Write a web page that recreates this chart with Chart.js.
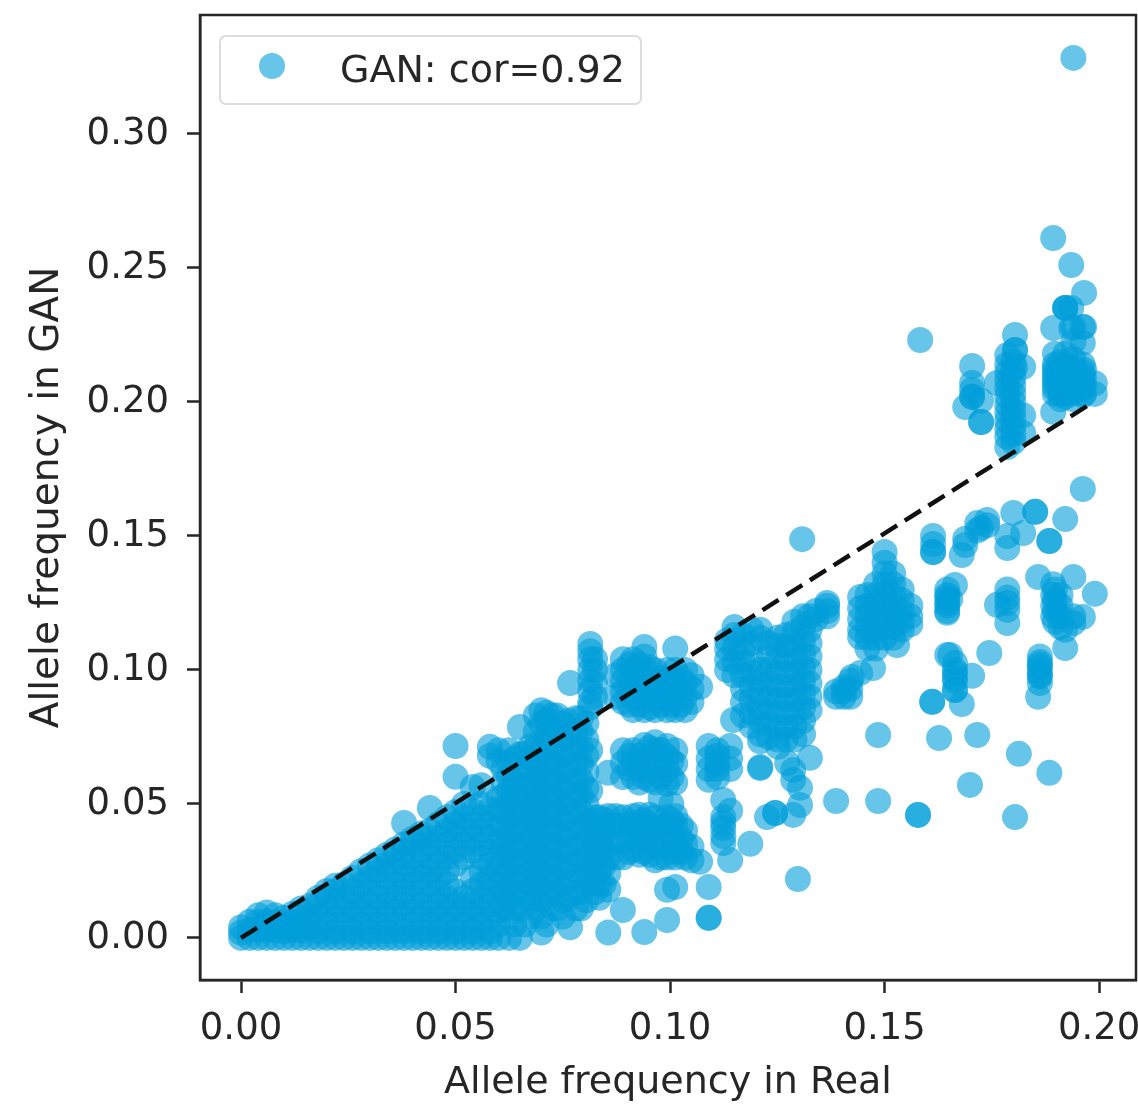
<!DOCTYPE html>
<html>
<head>
<meta charset="utf-8">
<title>Allele frequency</title>
<script src="https://cdn.jsdelivr.net/npm/chart.js@4/dist/chart.umd.min.js"></script>
<style>
  html, body { margin: 0; padding: 0; background: #fff; }
  #wrap { width: 1138px; height: 1104px; }
</style>
</head>
<body>
<div id="wrap"><canvas id="myChart" width="1138" height="1104"></canvas></div>
<script>
// values, one entry per column of points
var lowReal = [
  0.000, 0.002, 0.004, 0.006, 0.008, 0.010, 0.012, 0.014, 0.016, 0.018,
  0.020, 0.022, 0.024, 0.026, 0.028, 0.030, 0.032, 0.034, 0.036, 0.038,
  0.040, 0.042, 0.044, 0.046, 0.048, 0.050, 0.052, 0.054, 0.056, 0.058,
  0.060, 0.0625, 0.065, 0.0675, 0.070, 0.0725, 0.075, 0.0767, 0.078, 0.0805, 0.0814
];
var lowGan = [
  [0, 0.002, 0.004],
  [0, 0.003, 0.006],
  [0, 0.003, 0.006, 0.0085],
  [0, 0.003, 0.006, 0.0095],
  [0, 0.003, 0.006, 0.0085],
  [0, 0.0025, 0.005, 0.0075],
  [0, 0.003, 0.006, 0.009],
  [0, 0.003, 0.006, 0.009, 0.011],
  [0, 0.004, 0.008, 0.012],
  [0, 0.0025, 0.0075, 0.0125, 0.015],
  [0, 0.005, 0.010, 0.015, 0.0175],
  [0, 0.0025, 0.0075, 0.0125, 0.0175, 0.0195],
  [0, 0.005, 0.010, 0.015, 0.020],
  [0, 0.0025, 0.0075, 0.0125, 0.0175, 0.0225],
  [0, 0.005, 0.010, 0.015, 0.020, 0.025],
  [0, 0.0025, 0.0075, 0.0125, 0.0175, 0.0225, 0.027],
  [0, 0.005, 0.010, 0.015, 0.020, 0.025, 0.029],
  [0, 0.0025, 0.0075, 0.0125, 0.0175, 0.0225, 0.0275, 0.031],
  [0, 0.005, 0.010, 0.015, 0.020, 0.025, 0.030, 0.033],
  [0, 0.0025, 0.0075, 0.0125, 0.0175, 0.0225, 0.0275, 0.0325, 0.035, 0.0429],
  [0, 0.005, 0.010, 0.015, 0.020, 0.025, 0.030, 0.035, 0.037],
  [0, 0.0025, 0.0075, 0.0125, 0.0175, 0.0225, 0.0275, 0.0325, 0.0375, 0.039],
  [0, 0.005, 0.010, 0.015, 0.020, 0.025, 0.030, 0.035, 0.040, 0.0485],
  [0, 0.0025, 0.0075, 0.0125, 0.0175, 0.0225, 0.0275, 0.0325, 0.0375, 0.0425],
  [0, 0.005, 0.010, 0.015, 0.020, 0.025, 0.030, 0.035, 0.040, 0.045],
  [0, 0.0025, 0.0075, 0.0125, 0.0175, 0.0275, 0.0325, 0.0375, 0.0425, 0.047, 0.0601, 0.0716],
  [0, 0.005, 0.010, 0.015, 0.030, 0.035, 0.040, 0.045, 0.050],
  [0, 0.0025, 0.0075, 0.0125, 0.0175, 0.0225, 0.0325, 0.0375, 0.0425, 0.0475, 0.0563],
  [0, 0.005, 0.010, 0.015, 0.020, 0.025, 0.030, 0.035, 0.040, 0.045, 0.050, 0.057],
  [0, 0.0025, 0.0075, 0.0125, 0.0175, 0.0225, 0.0275, 0.0325, 0.0375, 0.0425, 0.048, 0.068, 0.0713],
  [0, 0.005, 0.010, 0.015, 0.020, 0.025, 0.030, 0.036, 0.042, 0.048, 0.052, 0.066, 0.070],
  [0, 0.008, 0.014, 0.020, 0.026, 0.032, 0.038, 0.044, 0.050, 0.055, 0.060, 0.065, 0.070],
  [0, 0.011, 0.017, 0.023, 0.029, 0.035, 0.041, 0.047, 0.053, 0.060, 0.0685, 0.0787],
  [0.008, 0.014, 0.020, 0.026, 0.032, 0.038, 0.044, 0.050, 0.056, 0.062, 0.067, 0.0715],
  [0.002, 0.008, 0.014, 0.020, 0.026, 0.032, 0.038, 0.044, 0.050, 0.056, 0.062, 0.068, 0.074, 0.080, 0.085],
  [0.011, 0.017, 0.023, 0.029, 0.035, 0.041, 0.047, 0.053, 0.059, 0.065, 0.071, 0.077, 0.083],
  [0.008, 0.014, 0.020, 0.026, 0.032, 0.038, 0.044, 0.050, 0.056, 0.062, 0.068, 0.074, 0.080],
  [0.004, 0.0951],
  [0.011, 0.017, 0.023, 0.029, 0.035, 0.041, 0.047, 0.053, 0.059, 0.065, 0.071, 0.077, 0.082],
  [0.014, 0.020, 0.026, 0.032, 0.038, 0.044, 0.050, 0.056, 0.062, 0.068, 0.074, 0.080],
  [0.055, 0.070, 0.086, 0.088, 0.092, 0.096, 0.100, 0.104, 0.107, 0.1097]
];
// second pass over the solid part of the band, between the columns above
var fillReal = [
  0.0612, 0.0637, 0.0662, 0.0687, 0.0712, 0.0737, 0.0762, 0.0792, 0.0825, 0.0845,
  0.0905, 0.0928, 0.0952, 0.0978, 0.1003, 0.1025
];
var fillGan = [
  [0.011, 0.017, 0.023, 0.029, 0.035, 0.041, 0.047, 0.053, 0.058, 0.063],
  [0.005, 0.011, 0.017, 0.023, 0.029, 0.035, 0.041, 0.047, 0.053, 0.058, 0.067],
  [0.005, 0.015, 0.021, 0.027, 0.033, 0.039, 0.045, 0.051, 0.057, 0.063, 0.069],
  [0.011, 0.017, 0.023, 0.029, 0.035, 0.041, 0.047, 0.053, 0.059, 0.065, 0.071, 0.077, 0.083],
  [0.005, 0.015, 0.021, 0.027, 0.033, 0.039, 0.045, 0.051, 0.057, 0.063, 0.069, 0.075, 0.081, 0.084],
  [0.011, 0.017, 0.023, 0.029, 0.035, 0.041, 0.047, 0.053, 0.059, 0.065, 0.071, 0.077, 0.083],
  [0.015, 0.021, 0.027, 0.033, 0.039, 0.045, 0.051, 0.057, 0.063, 0.069, 0.075, 0.081],
  [0.011, 0.017, 0.023, 0.029, 0.035, 0.041, 0.047, 0.053, 0.059, 0.065, 0.071, 0.077, 0.082],
  [0.017, 0.023, 0.029, 0.035, 0.041, 0.045, 0.090, 0.095, 0.100, 0.104],
  [0.020, 0.027, 0.033, 0.039, 0.044],
  [0.032, 0.037, 0.042, 0.063, 0.068, 0.087, 0.092, 0.097, 0.102],
  [0.031, 0.036, 0.041, 0.046, 0.058, 0.063, 0.068, 0.087, 0.092, 0.097, 0.102],
  [0.031, 0.036, 0.042, 0.046, 0.059, 0.065, 0.071, 0.086, 0.091, 0.096, 0.101],
  [0.030, 0.036, 0.041, 0.052, 0.060, 0.066, 0.070, 0.087, 0.092, 0.097],
  [0.032, 0.038, 0.044, 0.050, 0.060, 0.066, 0.087, 0.092, 0.097],
  [0.032, 0.037, 0.042, 0.087, 0.092, 0.097]
];
var midReal = [
  0.0835, 0.0856, 0.0873, 0.089, 0.0914, 0.094, 0.0965, 0.0993, 0.1012, 0.1035,
  0.105, 0.107, 0.109, 0.111, 0.1124, 0.114, 0.1187, 0.121, 0.1252, 0.1273,
  0.1326, 0.1245, 0.1287, 0.1303, 0.1226, 0.1298
];
var midGan = [
  [0.015, 0.020, 0.025, 0.030, 0.035, 0.040, 0.045],
  [0.002, 0.018, 0.024, 0.030, 0.036, 0.042, 0.0455, 0.0616],
  [0.030, 0.036, 0.042, 0.0455, 0.090, 0.098],
  [0.0104, 0.030, 0.036, 0.042, 0.045, 0.060, 0.0653, 0.070, 0.088, 0.092, 0.096, 0.100, 0.104],
  [0.033, 0.038, 0.043, 0.0455, 0.060, 0.0653, 0.070, 0.085, 0.090, 0.095, 0.100, 0.104],
  [0.0022, 0.032, 0.038, 0.044, 0.060, 0.0663, 0.072, 0.085, 0.090, 0.095, 0.100, 0.105, 0.1086],
  [0.029, 0.034, 0.040, 0.045, 0.058, 0.064, 0.070, 0.073, 0.085, 0.090, 0.095, 0.100],
  [0.0067, 0.018, 0.030, 0.036, 0.042, 0.045, 0.0575, 0.0625, 0.0675, 0.0716, 0.085, 0.090, 0.095, 0.100],
  [0.019, 0.030, 0.036, 0.042, 0.0455, 0.058, 0.065, 0.070, 0.085, 0.090, 0.095, 0.100, 0.108],
  [0.030, 0.035, 0.040, 0.085, 0.090, 0.095, 0.100],
  [0.029, 0.034, 0.088, 0.093, 0.098],
  [0.0284, 0.0937],
  [0.0075, 0.0075, 0.019, 0.059, 0.063, 0.067, 0.0716],
  [0.060, 0.065, 0.070, 0.063, 0.068],
  [0.0354, 0.038, 0.041, 0.043, 0.0451, 0.0515],
  [0.029, 0.0475, 0.063, 0.067, 0.0716],
  [0.0351],
  [0.0638, 0.0634, 0.0734],
  [0.0713],
  [0.0653],
  [0.0672],
  [0.0466, 0.0466],
  [0.0459, 0.059, 0.0627],
  [0.0496, 0.056],
  [0.0451],
  [0.022]
];
var massReal = [0.1133, 0.115, 0.1147, 0.117, 0.119, 0.121, 0.123, 0.125, 0.127, 0.129, 0.131, 0.1325, 0.134, 0.1366];
var massGan = [
  [0.100, 0.104, 0.108, 0.111],
  [0.098, 0.103, 0.108, 0.113, 0.116],
  [0.0813],
  [0.083, 0.088, 0.093, 0.098, 0.103, 0.108, 0.113],
  [0.079, 0.084, 0.089, 0.094, 0.099, 0.104, 0.110, 0.115],
  [0.076, 0.081, 0.086, 0.091, 0.096, 0.100, 0.112, 0.115],
  [0.075, 0.080, 0.085, 0.090, 0.095, 0.100, 0.105, 0.110],
  [0.074, 0.079, 0.084, 0.089, 0.094, 0.099, 0.104, 0.109, 0.112],
  [0.074, 0.079, 0.084, 0.089, 0.094, 0.099, 0.104, 0.109, 0.113],
  [0.074, 0.079, 0.084, 0.089, 0.094, 0.099, 0.104, 0.109, 0.114, 0.118],
  [0.076, 0.081, 0.086, 0.091, 0.096, 0.101, 0.106, 0.111, 0.116, 0.120],
  [0.085, 0.090, 0.095, 0.100, 0.105, 0.110, 0.115, 0.120],
  [0.122, 0.119],
  [0.120, 0.125, 0.124, 0.122]
];
var highReal = [
  0.1308, 0.1387, 0.1405, 0.142, 0.1424, 0.1443, 0.146, 0.1473, 0.148, 0.1485,
  0.150, 0.152, 0.1529, 0.154, 0.156, 0.1578, 0.1583, 0.1611, 0.1613, 0.1627,
  0.1646, 0.1653, 0.1664, 0.168, 0.1688, 0.1699, 0.1704, 0.1716, 0.1725, 0.1739,
  0.1744, 0.1762, 0.1786, 0.180, 0.1804, 0.1813, 0.1823, 0.1851, 0.1858, 0.1862,
  0.1884, 0.1893, 0.1897, 0.191, 0.1921, 0.1935, 0.194, 0.1962, 0.1965, 0.199
];
var highGan = [
  [0.1488],
  [0.0511, 0.090, 0.092],
  [0.0935, 0.090, 0.092],
  [0.090, 0.093, 0.096],
  [0.0974],
  [0.0989, 0.1272, 0.123, 0.119, 0.115, 0.1123],
  [0.128, 0.124, 0.120, 0.116, 0.112, 0.108],
  [0.1007],
  [0.132, 0.128, 0.124, 0.120, 0.116, 0.112, 0.108],
  [0.0511, 0.0757],
  [0.144, 0.140, 0.136, 0.132, 0.128, 0.124, 0.120, 0.116, 0.112],
  [0.136, 0.132, 0.128, 0.124, 0.120, 0.116, 0.112],
  [0.1093],
  [0.130, 0.126, 0.122, 0.118, 0.115],
  [0.124, 0.120, 0.117],
  [0.0459, 0.0459],
  [0.2231],
  [0.0881, 0.0881],
  [0.150, 0.147, 0.144, 0.144],
  [0.0746],
  [0.130, 0.127, 0.124, 0.1213, 0.1056, 0.128, 0.125, 0.122],
  [0.1056, 0.1265],
  [0.1317, 0.1026, 0.099, 0.096, 0.0925, 0.0925, 0.100, 0.097],
  [0.0873, 0.1429],
  [0.1466, 0.149, 0.1981],
  [0.0571],
  [0.0978, 0.2134, 0.2071, 0.2045, 0.2019, 0.2019],
  [0.0757, 0.1548, 0.152],
  [0.153, 0.2005, 0.1925, 0.1925],
  [0.156, 0.154],
  [0.1063],
  [0.1243, 0.2071],
  [0.130, 0.127, 0.125, 0.1224, 0.1175, 0.150, 0.1455, 0.2175, 0.214, 0.211, 0.208, 0.205, 0.202, 0.199, 0.196, 0.193, 0.190, 0.187, 0.1832],
  [0.1586, 0.215, 0.212, 0.209, 0.206, 0.203, 0.200, 0.197, 0.194, 0.191, 0.188, 0.185],
  [0.0451, 0.225, 0.2194, 0.2194, 0.213],
  [0.0687],
  [0.1511, 0.1884, 0.195, 0.2131],
  [0.159, 0.159],
  [0.1347, 0.090],
  [0.105, 0.103, 0.101, 0.099, 0.0975, 0.0951, 0.102, 0.098],
  [0.0616, 0.1481, 0.1481],
  [0.2612, 0.2276, 0.1963, 0.132, 0.128, 0.124, 0.120],
  [0.130, 0.126, 0.122, 0.118, 0.205, 0.208, 0.211, 0.214, 0.218, 0.203, 0.2065, 0.2095, 0.2125],
  [0.128, 0.124, 0.120, 0.116, 0.203, 0.206, 0.209, 0.212, 0.215, 0.201, 0.2045, 0.2075, 0.2105],
  [0.1082, 0.115, 0.1563, 0.2351, 0.2351, 0.2351, 0.202, 0.205, 0.208, 0.211, 0.214, 0.218, 0.2035, 0.2065, 0.2095],
  [0.2511, 0.2276, 0.2351, 0.203, 0.206, 0.209, 0.212],
  [0.1347, 0.1175, 0.120, 0.2225, 0.228, 0.201, 0.204, 0.207, 0.210, 0.213, 0.216],
  [0.1198, 0.1675, 0.228, 0.222, 0.2025, 0.205, 0.208, 0.211, 0.214],
  [0.2407, 0.203, 0.206, 0.209, 0.212, 0.228],
  [0.1284, 0.203, 0.207]
];
var topReal = [0.194];
var topGan = [[0.3284]];
var lineReal = [0, 0.1972];
var lineGan = [0, 0.1985];
var xTicks = [0, 0.05, 0.1, 0.15, 0.2];
var yTicks = [0, 0.05, 0.1, 0.15, 0.2, 0.25, 0.3];
var seriesLabel = "GAN: cor=0.92";

var points = [];
function addColumns(reals, gans) {
  reals.forEach(function (x, i) {
    gans[i].forEach(function (y) {
      points.push({ x: x, y: y });
    });
  });
}
addColumns(lowReal, lowGan);
addColumns(fillReal, fillGan);
addColumns(midReal, midGan);
addColumns(massReal, massGan);
addColumns(highReal, highGan);
addColumns(topReal, topGan);

var inkColor = "#262626";
var dotColor = "rgba(0, 158, 218, 0.6)";

// the legend marker sits left of the middle of its slot, so it gets its own small canvas
var legendDot = document.createElement("canvas");
legendDot.width = 60;
legendDot.height = 44;
var dotCtx = legendDot.getContext("2d");
dotCtx.fillStyle = dotColor;
dotCtx.beginPath();
dotCtx.arc(15, 16, 13, 0, Math.PI * 2);
dotCtx.fill();

// legend frame and the top/right spines
var framePlugin = {
  id: "frame",
  beforeDraw: function (chart) {
    var c = chart.ctx;
    c.save();
    c.strokeStyle = "#dcdcdc";
    c.lineWidth = 2;
    c.beginPath();
    c.roundRect(220, 36, 421, 68, 6);
    c.stroke();
    c.restore();
  },
  afterDraw: function (chart) {
    var a = chart.chartArea;
    var c = chart.ctx;
    c.save();
    c.strokeStyle = inkColor;
    c.lineWidth = 2.5;
    c.strokeRect(a.left, a.top, a.right - a.left, a.bottom - a.top);
    c.restore();
  }
};

var ctx = document.getElementById("myChart");
var myChart = new Chart(ctx, {
  type: "scatter",
  plugins: [framePlugin],
  data: {
    datasets: [
      {
        label: seriesLabel,
        data: points,
        backgroundColor: dotColor,
        borderWidth: 0,
        pointRadius: 13,
        pointHoverRadius: 13,
        order: 2
      },
      {
        label: "y = x",
        data: lineReal.map(function (x, i) { return { x: x, y: lineGan[i] }; }),
        showLine: true,
        pointRadius: 0,
        borderColor: "#111",
        borderWidth: 4.5,
        borderDash: [19, 9],
        order: 1
      }
    ]
  },
  options: {
    responsive: false,
    animation: false,
    layout: { autoPadding: false, padding: { top: 15, right: 2, left: 0, bottom: 0 } },
    plugins: {
      tooltip: { enabled: false },
      legend: {
        position: "chartArea",
        align: "start",
        labels: {
          filter: function (item) { return item.datasetIndex === 0; },
          usePointStyle: true,
          pointStyle: legendDot,
          pointStyleWidth: 68,
          padding: 53,
          color: inkColor,
          font: { family: "DejaVu Sans", size: 38 }
        }
      }
    },
    scales: {
      x: {
        type: "linear",
        min: -0.00956,
        max: 0.2086,
        afterFit: function (s) {
          s.height = 124;
          s.paddingLeft = 0;
          s.paddingRight = 0;
        },
        afterBuildTicks: function (s) {
          s.ticks = xTicks.map(function (v) { return { value: v }; });
        },
        title: {
          display: true,
          text: "Allele frequency in Real",
          color: inkColor,
          font: { family: "DejaVu Sans", size: 38, lineHeight: 1.08 },
          padding: { top: 0, bottom: 0 }
        },
        grid: { drawOnChartArea: false, tickLength: 13, tickColor: inkColor, tickWidth: 2.5 },
        border: { color: inkColor, width: 2.5 },
        ticks: {
          color: inkColor,
          font: { family: "DejaVu Sans", size: 37 },
          padding: 14,
          maxRotation: 0,
          autoSkip: false,
          callback: function (v) { return v.toFixed(2); }
        }
      },
      y: {
        type: "linear",
        min: -0.0157,
        max: 0.3444,
        afterFit: function (s) {
          s.width = 200;
          s.paddingTop = 0;
          s.paddingBottom = 0;
        },
        afterBuildTicks: function (s) {
          s.ticks = yTicks.map(function (v) { return { value: v }; });
        },
        title: {
          display: true,
          text: "Allele frequency in GAN",
          color: inkColor,
          font: { family: "DejaVu Sans", size: 39 },
          padding: { top: 24, bottom: 0 }
        },
        grid: { drawOnChartArea: false, tickLength: 13, tickColor: inkColor, tickWidth: 2.5 },
        border: { color: inkColor, width: 2.5 },
        ticks: {
          color: inkColor,
          font: { family: "DejaVu Sans", size: 37 },
          padding: 18,
          autoSkip: false,
          callback: function (v) { return v.toFixed(2); }
        }
      }
    }
  }
});
</script>
</body>
</html>
